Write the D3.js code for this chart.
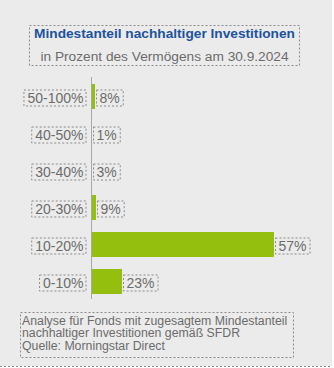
<!DOCTYPE html>
<html><head><meta charset="utf-8">
<script src="https://cdn.jsdelivr.net/npm/d3@7/dist/d3.min.js"></script>
<style>
html,body{margin:0;padding:0;background:#fff;}
svg{display:block;font-family:"Liberation Sans",Arial,sans-serif;}
</style></head>
<body>
<svg id="c" width="334" height="368"></svg>
<script>
// categories top to bottom
const categories = ["50-100%","40-50%","30-40%","20-30%","10-20%","0-10%"];
// bar lengths as drawn in the picture (same unit as the 57% bar)
const barValues = [0.94, 0, 0, 1.25, 57, 9.4];
// value labels as printed
const valueLabels = ["8%","1%","3%","9%","57%","23%"];
const title = "Mindestanteil nachhaltiger Investitionen";
const subtitle = "in Prozent des Vermögens am 30.9.2024";
const noteLines = ["Analyse für Fonds mit zugesagtem Mindestanteil","nachhaltiger Investitionen gemäß SFDR","Quelle: Morningstar Direct"];

const svg = d3.select("#c");
const grey = "#6b6b6b", dotted = "#8a8a8a";
svg.append("rect").attr("x",0).attr("y",0).attr("width",332).attr("height",366).attr("fill","#ebebeb");
svg.append("line").attr("x1",0).attr("x2",332).attr("y1",366.5).attr("y2",366.5)
  .attr("stroke",dotted).attr("stroke-dasharray","2,2");

function dotBox(x,y,w,h){
  svg.append("rect").attr("x",x+0.5).attr("y",y+0.5).attr("width",w).attr("height",h)
    .attr("fill","none").attr("stroke",dotted).attr("stroke-width",1).attr("stroke-dasharray","2,2");
}

// title box
dotBox(29,25,270,40);
svg.append("text").attr("x",164.5).attr("y",37.5).attr("text-anchor","middle")
  .attr("font-size","13.7px").attr("font-weight","bold").attr("fill","#1d539e").text(title);
svg.append("text").attr("x",164.5).attr("y",61).attr("text-anchor","middle")
  .attr("font-size","13.7px").attr("fill",grey).text(subtitle);

const y = d3.scaleBand().domain(categories).range([78,300]).paddingInner(12/37).paddingOuter(6/37);
const x = d3.scaleLinear().domain([0,57]).range([92,274]);

// bars
svg.selectAll(".bar").data(categories).enter().append("rect")
  .attr("x",x(0)).attr("y",d=>y(d)).attr("width",(d,i)=>x(barValues[i])-x(0))
  .attr("height",y.bandwidth()).attr("fill","#95bf0e");

// axis line
svg.append("line").attr("x1",91.5).attr("x2",91.5).attr("y1",77).attr("y2",299)
  .attr("stroke","#a9a9a9").attr("stroke-width",1);

// category labels
categories.forEach((c,i)=>{
  const cy = y(c)+y.bandwidth()/2+1;
  const t = svg.append("text").attr("x",83.5).attr("y",cy+5).attr("text-anchor","end")
    .attr("font-size","14px").attr("fill",grey).text(c);
  const w = t.node().getComputedTextLength();
  dotBox(83.5-w-4, cy-8, w+6, 16);
});
// value labels
categories.forEach((c,i)=>{
  const cy = y(c)+y.bandwidth()/2+1;
  const xe = x(barValues[i]);
  const t = svg.append("text").attr("x",xe+4.5).attr("y",cy+5)
    .attr("font-size","14px").attr("fill",grey).text(valueLabels[i]);
  const w = t.node().getComputedTextLength();
  dotBox(Math.round(xe)+1, cy-8, w+6.5, 16);
});

// note
dotBox(20,312,273,45);
noteLines.forEach((l,i)=>{
  svg.append("text").attr("x",22).attr("y",324.5+i*12.5).attr("font-size","12.3px").attr("fill",grey).text(l);
});
</script>
</body></html>
